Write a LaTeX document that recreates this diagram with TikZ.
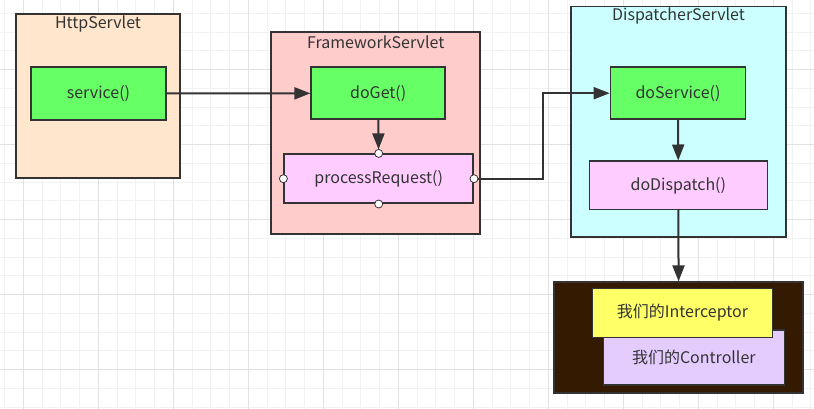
\documentclass[tikz,border=0pt]{standalone}
\usepackage{fontspec}
\setmainfont{Noto Sans CJK SC}
\usetikzlibrary{arrows.meta,positioning}
\definecolor{linegray}{HTML}{333333}
\definecolor{textgray}{HTML}{333333}
\definecolor{gridminor}{HTML}{F2F2F2}
\definecolor{gridmajor}{HTML}{E2E2E2}
\definecolor{peach}{HTML}{FFE6CC}
\definecolor{rose}{HTML}{FFCCCC}
\definecolor{aqua}{HTML}{CCFFFF}
\definecolor{methodgreen}{HTML}{66FF66}
\definecolor{methodpink}{HTML}{FFCCFF}
\definecolor{hookyellow}{HTML}{FFFF66}
\definecolor{hooklilac}{HTML}{E5CCFF}
\definecolor{darkbrown}{HTML}{331A00}
\tikzset{
  classbox/.style={draw=linegray, line width=1.6pt, inner sep=0pt},
  method/.style={draw=linegray, line width=1.6pt, inner sep=0pt, text=textgray,
    font=\fontsize{16}{18}\selectfont},
  classtitle/.style={text=textgray, inner sep=0pt, font=\fontsize{16}{18}\selectfont},
  flow/.style={draw=linegray, line width=2pt, -{Triangle[length=16pt,width=12pt]}},
  port/.style={circle, draw=linegray, fill=white, line width=0.8pt,
    minimum size=8pt, inner sep=0pt},
}
\begin{document}
\begin{tikzpicture}[x=1pt,y=-1pt]
  \useasboundingbox (0,0) rectangle (814,409);
  % grid
  \foreach \gx in {4.5,23.25,...,814} \draw[gridminor, line width=0.8pt] (\gx,0) -- (\gx,409);
  \foreach \gy in {13.25,32,...,409} \draw[gridminor, line width=0.8pt] (0,\gy) -- (814,\gy);
  \foreach \gx in {23.25,98.25,...,814} \draw[gridmajor, line width=0.8pt] (\gx,0) -- (\gx,409);
  \foreach \gy in {69.5,144.5,...,409} \draw[gridmajor, line width=0.8pt] (0,\gy) -- (814,\gy);

  % classes
  \node[classbox, fill=peach, minimum width=164pt, minimum height=164pt] (http) at (98,96) {};
  \node[classbox, fill=rose, minimum width=209pt, minimum height=202pt] (fw) at (375.7,133.2) {};
  \node[classbox, fill=aqua, minimum width=215pt, minimum height=230pt] (disp) at (678.5,121.7) {};
  \node[classtitle] (httpT) at ([yshift=-11pt]http.north) {HttpServlet};
  \node[classtitle] (fwT) at ([yshift=-10.5pt]fw.north) {FrameworkServlet};
  \node[classtitle] (dispT) at ([yshift=-10pt]disp.north) {DispatcherServlet};

  % methods
  \node[method, fill=methodgreen, minimum width=135pt, minimum height=53pt] (service) at (98.5,93.5) {service()};
  \node[method, fill=methodgreen, minimum width=134pt, minimum height=52pt] (doGet) at (378.2,93.3) {doGet()};
  \node[method, fill=methodpink, minimum width=189pt, minimum height=49pt] (procReq) at (378.7,178.7) {processRequest()};
  \node[method, fill=methodgreen, minimum width=135pt, minimum height=52pt] (doService) at (678,93.2) {doService()};
  \node[method, fill=methodpink, minimum width=178pt, minimum height=48pt] (doDispatch) at (678.3,185.3) {doDispatch()};

  % interceptor and controller
  \node[classbox, fill=darkbrown, minimum width=249pt, minimum height=111pt] (chain) at (678.7,337.7) {};
  \node[method, fill=hooklilac, minimum width=181pt, minimum height=55pt] (ctrl) at (693.8,357.7) {我们的Controller};
  \node[method, fill=hookyellow, minimum width=180pt, minimum height=49pt] (intc) at (682.5,313) {我们的Interceptor};

  % calls
  \draw[flow] (service) -- (doGet);
  \draw[flow, shorten >=4pt] (doGet) -- (procReq);
  \draw[flow] (procReq.east) -- ++(69,0) |- (doService.west);
  \draw[flow] (doService) -- (doDispatch);
  \draw[flow] (doDispatch) -- (chain);

  % ports
  \foreach \side in {north,south,east,west} \node[port] (port-\side) at (procReq.\side) {};
\end{tikzpicture}
\end{document}
